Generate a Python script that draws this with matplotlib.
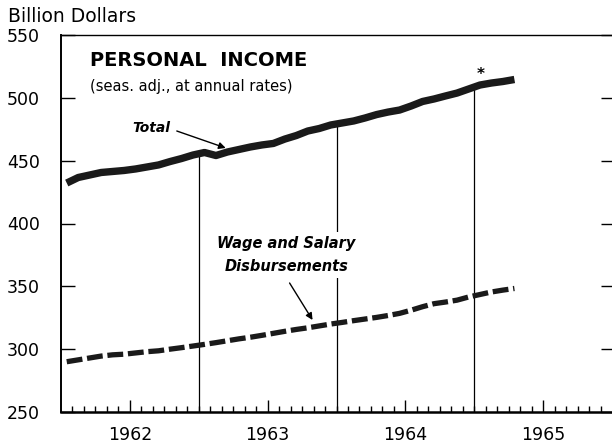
import matplotlib
matplotlib.use('Agg')
import matplotlib.pyplot as plt
import numpy as np

plt.rcParams['font.family'] = ['DejaVu Sans']

# monthly data, Jan 1962 - Apr 1965 (billion dollars, seas. adj. annual rates)
total = [432.2, 436.6, 438.6, 440.6, 441.4, 442.2, 443.4, 445.0, 446.6, 449.3, 451.7, 454.5,
         456.5, 454.1, 456.9, 458.9, 460.9, 462.5, 463.7, 467.2, 470.0, 473.6, 475.6, 478.4,
         480.0, 481.6, 484.0, 486.7, 488.7, 490.3, 493.5, 497.1, 499.1, 501.5, 503.8, 507.0,
         510.2, 511.8, 513.0, 514.6]
wages = [290.0, 291.5, 293.0, 294.5, 295.5, 296.0, 297.0, 298.0, 298.7, 300.0, 301.2, 302.5,
         303.8, 305.2, 306.7, 308.2, 309.5, 311.0, 312.6, 314.2, 315.7, 317.0, 318.5, 320.0,
         321.3, 322.7, 324.0, 325.3, 326.8, 328.5, 331.0, 333.8, 336.2, 337.5, 339.0, 341.5,
         343.5, 345.5, 347.0, 348.3]
months = 1962 + (np.arange(len(total)) + 0.5) / 12

years = [1962, 1963, 1964, 1965]
year_bounds = [1963, 1964, 1965]
yticks = [250, 300, 350, 400, 450, 500, 550]


def px_x(px):
    # pixel column -> date on the axis
    return 1962 + (px - 61) / 138


def px_y(py):
    # pixel row -> billion dollars
    return 550 - (py - 35) / 1.2567


fig = plt.figure(figsize=(6.12, 4.47), dpi=100)
ax = fig.add_axes([61 / 612, 35 / 447, 551 / 612, 377 / 447])

# vertical lines at year boundaries, up to the total line
tops = np.interp(year_bounds, months, total)
ax.vlines(year_bounds, 250, tops, color='black', linewidth=0.9, zorder=1)

ax.plot(months, total, color='#1a1a1a', linewidth=5.3, solid_capstyle='butt', zorder=3)
ax.plot(months, wages, color='#1a1a1a', linewidth=3.8, dashes=(3, 0.9),
        dash_capstyle='butt', zorder=3)

ax.set_xlim(1962, 1966)
ax.set_ylim(250, 550)

# x ticks: mid-year labels, monthly minor ticks
ax.set_xticks([y + 0.5 for y in years])
ax.set_xticklabels([str(y) for y in years])
ax.set_xticks([1962 + k / 12 for k in range(1, 48)], minor=True)
ax.tick_params(axis='x', which='major', direction='in', length=8.5, width=1,
               labelsize=12.5, pad=10, top=False)
ax.tick_params(axis='x', which='minor', direction='in', length=4.3, width=1, top=False)

ax.set_yticks(yticks)
ax.tick_params(axis='y', which='major', direction='in', length=10, width=1,
               labelsize=12.5, pad=15, right=True)
for t in ax.yaxis.get_major_ticks():
    t.tick2line.set_markersize(8)

ax.spines['right'].set_visible(False)
ax.spines['left'].set_linewidth(1.4)
ax.spines['bottom'].set_linewidth(1.8)
ax.spines['top'].set_linewidth(1.0)

fig.text(8 / 612, 1 - 17 / 447, 'Billion Dollars', fontsize=13.5, va='center', ha='left')

fig.text(90 / 612, 1 - 60 / 447, 'PERSONAL  INCOME', fontsize=14, fontweight='bold',
         va='center', ha='left')
fig.text(90 / 612, 1 - 86 / 447, '(seas. adj., at annual rates)', fontsize=10.5,
         va='center', ha='left')

ax.text(px_x(151), px_y(128), 'Total', fontsize=10, fontweight='bold', style='italic',
        ha='center', va='center')
ax.annotate('', xy=(px_x(226), px_y(148)), xytext=(px_x(177), px_y(131)),
            arrowprops=dict(arrowstyle='-|>', color='black', lw=1, mutation_scale=10,
                            shrinkA=0, shrinkB=0))

ax.text(px_x(287), px_y(255), 'Wage and Salary\nDisbursements', fontsize=10.5,
        fontweight='bold', style='italic', ha='center', va='center', linespacing=1.6,
        zorder=2, bbox=dict(facecolor='white', edgecolor='none', pad=3))
ax.annotate('', xy=(px_x(313), px_y(320)), xytext=(px_x(290), px_y(283)),
            arrowprops=dict(arrowstyle='-|>', color='black', lw=1, mutation_scale=10,
                            shrinkA=0, shrinkB=0))

ax.text(px_x(481), px_y(75), '*', fontsize=11, fontweight='bold', ha='center', va='center')

fig.savefig('out.png', dpi=100)
